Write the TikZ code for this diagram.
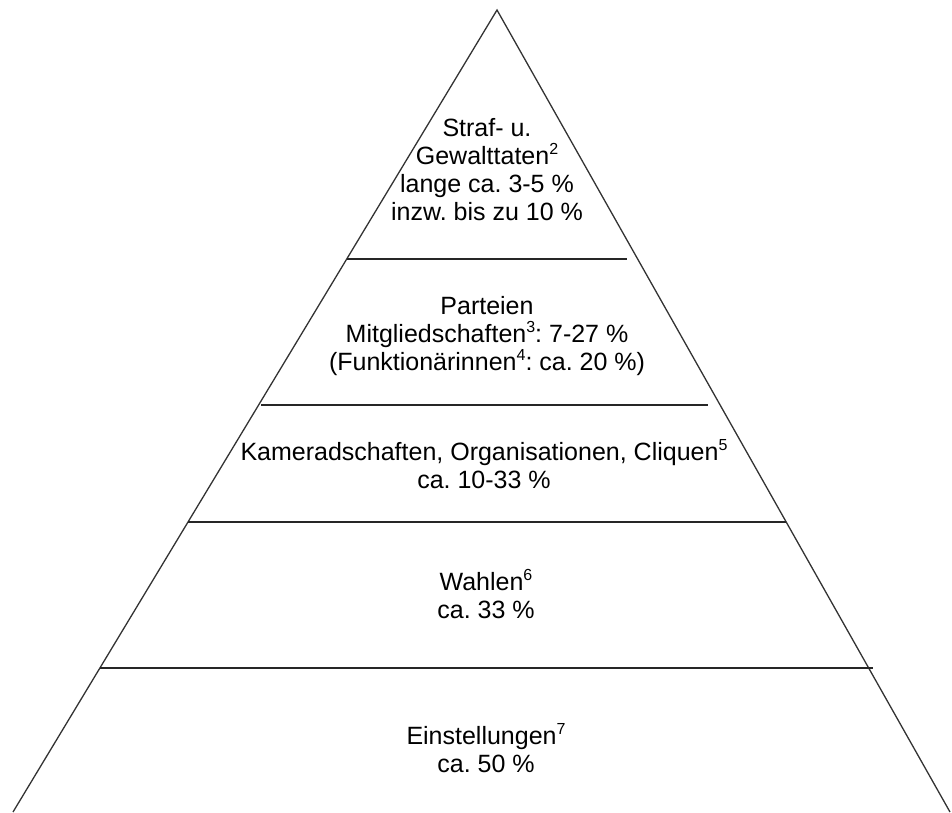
\documentclass[tikz,border=0pt]{standalone}
\usepackage{fontspec}
\setmainfont{Liberation Sans}
\newcommand{\supnum}[1]{\raisebox{0.75ex}{\fontsize{16}{16}\selectfont #1}}
\begin{document}
\frenchspacing
\begin{tikzpicture}[x=1pt,y=-1pt,
  edge/.style={line width=1.3pt, draw=black!80},
  tier/.style={line width=1.8pt, draw=black!85},
  lbl/.style={align=center, inner sep=0pt, anchor=base, font=\fontsize{25}{28}\selectfont}]
\useasboundingbox (0,0) rectangle (952,812);
\coordinate (apex) at (497,10);
\coordinate (bl) at (13,812);
\coordinate (br) at (950,812);
\draw[edge] (bl) -- (apex) -- (br);
\coordinate (l1a) at (347,259); \coordinate (l1b) at (627,259);
\coordinate (l2a) at (261,405); \coordinate (l2b) at (708,405);
\coordinate (l3a) at (188,522); \coordinate (l3b) at (786,522);
\coordinate (l4a) at (100,668); \coordinate (l4b) at (873,668);
\draw[tier] (l1a) -- (l1b);
\draw[tier] (l2a) -- (l2b);
\draw[tier] (l3a) -- (l3b);
\draw[tier] (l4a) -- (l4b);
\node[lbl] (t1) at (487,220) {Straf- u.\\Gewalttaten\supnum{2}\\lange ca. 3-5 \%\\inzw. bis zu 10 \%};
\node[lbl] (t2) at (487,370) {Parteien\\Mitgliedschaften\supnum{3}: 7-27 \%\\(Funktionärinnen\supnum{4}: ca. 20 \%)};
\node[lbl] (t3) at (484,488) {Kameradschaften, Organisationen, Cliquen\supnum{5}\\ca. 10-33 \%};
\node[lbl] (t4) at (486,618) {Wahlen\supnum{6}\\ca. 33 \%};
\node[lbl] (t5) at (486,772) {Einstellungen\supnum{7}\\ca. 50 \%};
\end{tikzpicture}
\end{document}
